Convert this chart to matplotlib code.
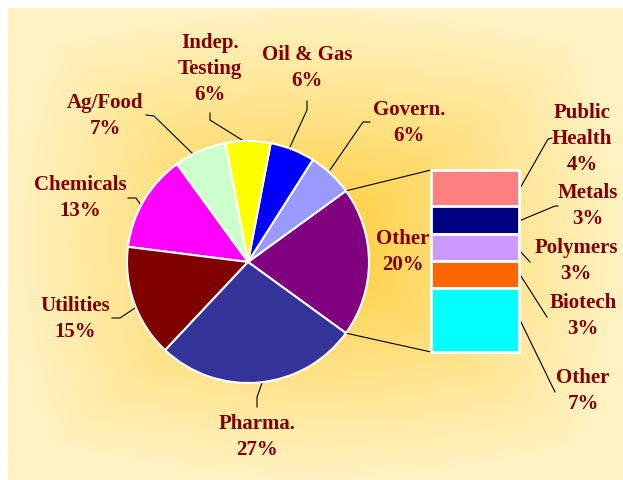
import numpy as np
import matplotlib.pyplot as plt

# Данные круговой диаграммы (по часовой стрелке на экране от "Other")
pie_labels = ["Other", "Govern.", "Oil & Gas", "Indep.\nTesting", "Ag/Food",
              "Chemicals", "Utilities", "Pharma."]
pie_values = [20, 6, 6, 6, 7, 13, 15, 27]
pie_colors = ["#800080", "#9999FF", "#0000FF", "#FFFF00", "#CCFFCC",
              "#FF00FF", "#800000", "#333399"]

# Данные столбца "Other" (сверху вниз)
bar_labels = ["Public\nHealth", "Metals", "Polymers", "Biotech", "Other"]
bar_values = [4, 3, 3, 3, 7]
bar_colors = ["#FF8080", "#000080", "#CC99FF", "#FF6600", "#00FFFF"]

W, H = 623, 480
fig = plt.figure(figsize=(W / 100, H / 100), dpi=100)
ax = fig.add_axes([0, 0, 1, 1])
ax.set_xlim(0, W)
ax.set_ylim(H, 0)
ax.axis("off")

# Фон: градиент от центра
gx = np.linspace(-1, 1, 400)
gy = np.linspace(-1, 1, 300)
XX, YY = np.meshgrid(gx, gy)
d = np.clip(np.maximum(np.abs(XX), np.abs(YY)) * 0.6 + np.hypot(XX, YY) * 0.4, 0, 1)
c_in = np.array([255, 200, 40]) / 255
c_out = np.array([255, 242, 194]) / 255
t = d[..., None] ** 0.8
img = c_in * (1 - t) + c_out * t
ax.imshow(img, extent=(8, W, H, 8), aspect="auto", zorder=0)

# Круговая диаграмма
cx, cy, r = 248, 262, 121
start = 360 * pie_values[0] / sum(pie_values) / 2
wedges, _ = ax.pie(pie_values, colors=pie_colors, center=(cx, cy), radius=r,
                   startangle=start, counterclock=False, frame=True,
                   wedgeprops=dict(edgecolor="white", linewidth=1.5))
for w in wedges:
    w.set_zorder(2)
ax.set_xlim(0, W)
ax.set_ylim(H, 0)
ax.set_aspect("equal")
ax.axis("off")

# Столбец "Other"
bx, bw, top, scale = 475, 88, 170, 9.1
bottoms = top + np.concatenate([[0], np.cumsum(bar_values)[:-1]]) * scale
ax.bar([bx] * len(bar_values), np.array(bar_values) * scale, bottom=bottoms,
       width=bw, color=bar_colors, edgecolor="white", linewidth=2, zorder=2)

# Соединительные линии
a = np.deg2rad(start)
ax.plot([cx + r * np.cos(a), bx - bw / 2], [cy - r * np.sin(a), top], color="black", lw=0.8, zorder=1)
ax.plot([cx + r * np.cos(a), bx - bw / 2], [cy + r * np.sin(a), top + sum(bar_values) * scale],
        color="black", lw=0.8, zorder=1)

font = dict(family="Liberation Serif", weight="bold", color="#800000", size=15,
            ha="center", va="center", linespacing=1.42, zorder=3)

# Подписи круговой диаграммы
pie_text_pos = [(403, 252), (409, 123), (307, 68), (210, 69), (105, 116),
                (80, 198), (75, 319), (257, 437)]
pie_leaders = [None,
               [(330, 170), (363, 122), (370, 122)],
               [(290, 147), (307, 110), (307, 101)],
               [(242, 140), (210, 120), (210, 113)],
               [(193, 154), (154, 116), (146, 115)],
               [(140, 204), (136, 198), (128, 198)],
               [(135, 308), (120, 318), (112, 318)],
               [(262, 383), (257, 397), (257, 407)]]
for lab, val, pos, ld in zip(pie_labels, pie_values, pie_text_pos, pie_leaders):
    ax.text(pos[0], pos[1], f"{lab}\n{val}%", **font)
    if ld:
        xs, ys = zip(*ld)
        ax.plot(xs, ys, color="black", lw=0.8, zorder=1)

# Подписи столбца
bar_text_pos = [(582, 139), (588, 206), (576, 261), (583, 316), (583, 391)]
bar_leaders = [[(519, 190), (548, 139), (552, 138)],
               [(519, 221), (555, 206), (558, 206)],
               [(519, 250), (530, 262)],
               [(519, 273), (547, 317)],
               [(519, 318), (555, 392)]]
for lab, val, pos, ld in zip(bar_labels, bar_values, bar_text_pos, bar_leaders):
    ax.text(pos[0], pos[1], f"{lab}\n{val}%", **font)
    xs, ys = zip(*ld)
    ax.plot(xs, ys, color="black", lw=0.8, zorder=1)

fig.savefig("out.png", dpi=100, facecolor="white")
